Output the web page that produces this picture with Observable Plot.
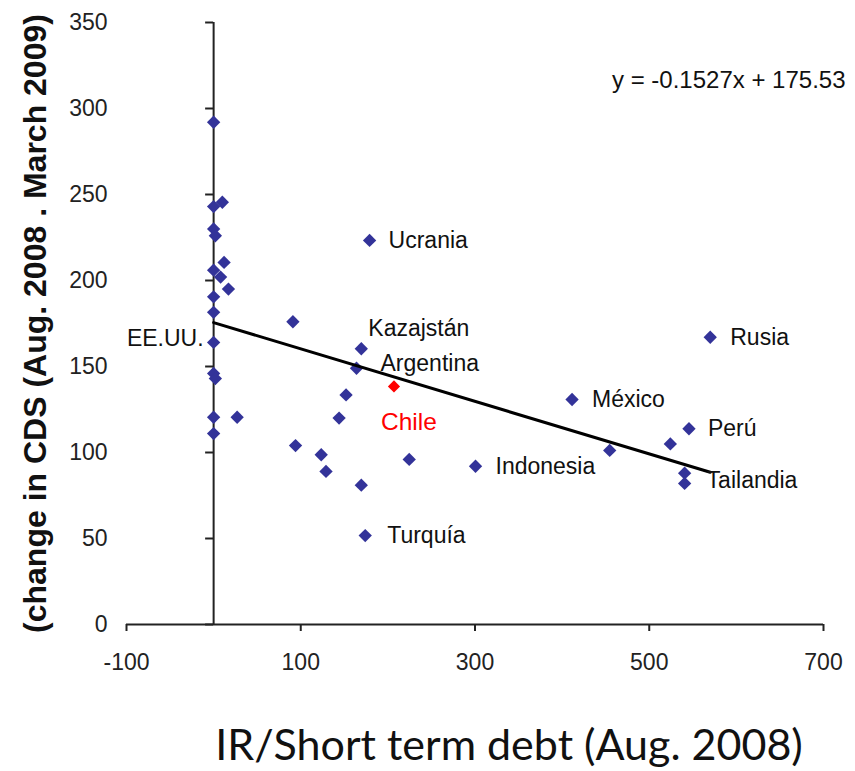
<!DOCTYPE html>
<html><head><meta charset="utf-8">
<script src="https://cdn.jsdelivr.net/npm/d3@7"></script>
<script src="https://cdn.jsdelivr.net/npm/@observablehq/plot@0.6"></script>
<style>
body{margin:0;background:#fff}
#chart{width:855px;height:771px}
</style>
</head><body><div id="chart"></div>
<script>
// IR / short term debt (Aug. 2008)
const irRatio = [0, 0, 10, 0, 2, 12, 0, 8, 17, 0, 0, 0, 0, 2, 0, 27, 0,
  91, 94, 123.5, 129, 144, 152, 164, 169.5, 169.5, 179, 174, 224.5, 207,
  300.6, 411.4, 454.6, 524.2, 545.6, 540.6, 540.6, 570];
// change in CDS (Aug. 2008 - March 2009)
const cdsChange = [292, 243, 245.5, 230, 226, 210.5, 206, 202, 195, 190.5, 181.5, 164, 146, 143, 120.5, 120.5, 111,
  176, 104, 98.7, 89, 120, 133.5, 149, 160.3, 81, 223.3, 51.7, 96, 138.4,
  92, 130.8, 101.2, 105, 113.8, 88, 82, 167];
const countries = ["", "", "", "", "", "", "", "", "", "", "", "EE.UU.", "", "", "", "", "",
  "", "", "", "", "", "", "Argentina", "Kazajstán", "", "Ucrania", "Turquía", "", "Chile",
  "Indonesia", "México", "", "", "Perú", "Tailandia", "", "Rusia"];
const highlighted = "Chile";
const xTicks = [-100, 100, 300, 500, 700];
const yTicks = [0, 50, 100, 150, 200, 250, 300, 350];
const slope = -0.1527;
const intercept = 175.53;
const equationText = "y = -0.1527x + 175.53";
const xTitle = "IR/Short term debt (Aug. 2008)";
const yTitle = "(change in CDS (Aug. 2008 . March 2009)";

const points = irRatio.map((x, i) => ({x, y: cdsChange[i], name: countries[i]}));
const xMin = d3.min(irRatio), xMax = d3.max(irRatio);
const trend = [xMin, xMax].map(x => ({x, y: intercept + slope * x}));

// label placement (pixel offsets, styling only)
const labelPos = {
  "Ucrania": {dx: 19, dy: 0, anchor: "start"},
  "Kazajstán": {dx: 7, dy: -20, anchor: "start"},
  "Argentina": {dx: 24, dy: -5, anchor: "start"},
  "Chile": {dx: -13, dy: 36, anchor: "start"},
  "México": {dx: 20, dy: 0, anchor: "start"},
  "Rusia": {dx: 20, dy: 0, anchor: "start"},
  "Perú": {dx: 19, dy: 0, anchor: "start"},
  "Indonesia": {dx: 20, dy: 0, anchor: "start"},
  "Tailandia": {dx: 22, dy: 7, anchor: "start"},
  "Turquía": {dx: 22, dy: 0, anchor: "start"},
  "EE.UU.": {dx: -10, dy: -4, anchor: "end"}
};

const blue = "#333399";
const labelFont = 23;
const labelMarks = points.filter(d => d.name).map(d => {
  const p = labelPos[d.name];
  const hi = d.name === highlighted;
  return Plot.text([d], {x: "x", y: "y", text: "name", dx: p.dx, dy: p.dy, textAnchor: p.anchor,
    fontSize: hi ? 24.5 : labelFont, fill: hi ? "#ff0000" : "#111"});
});

const chart = Plot.plot({
  width: 855, height: 771,
  marginLeft: 126, marginRight: 32, marginTop: 22, marginBottom: 147,
  style: {fontFamily: "'Liberation Sans', Arial, sans-serif", background: "#fff", color: "#222"},
  x: {domain: [-100, 700], label: null},
  y: {domain: [0, 350], label: null},
  marks: [
    Plot.axisX({ticks: xTicks, tickFormat: d => String(d), tickSize: 7, tickPadding: 22, fontSize: 23, strokeWidth: 2, label: null}),
    Plot.axisY({ticks: yTicks, tickFormat: d => String(d), tickSize: 0, tickPadding: 19, fontSize: 23, label: null}),
    Plot.ruleY([0], {stroke: "#222", strokeWidth: 2}),
    Plot.ruleX([0], {stroke: "#222", strokeWidth: 2}),
    Plot.ruleY(yTicks, {x1: 0, x2: 0, insetLeft: -8, stroke: "#222", strokeWidth: 2}),
    Plot.dot(points.filter(d => d.name !== highlighted), {x: "x", y: "y", symbol: "diamond2", r: 6, fill: blue, stroke: "none"}),
    Plot.dot(points.filter(d => d.name === highlighted), {x: "x", y: "y", symbol: "diamond2", r: 5.5, fill: "#ff0000", stroke: "none"}),
    Plot.line(trend, {x: "x", y: "y", stroke: "#000", strokeWidth: 3}),
    ...labelMarks,
    Plot.text([equationText], {frameAnchor: "top-right", textAnchor: "end", lineAnchor: "middle", dx: 22, dy: 58, fontSize: 24, fill: "#111"}),
    Plot.text([yTitle], {frameAnchor: "left", textAnchor: "middle", lineAnchor: "middle", rotate: -90, dx: -91, fontSize: 32, fontWeight: "bold", fill: "#111"}),
    Plot.text([xTitle], {frameAnchor: "bottom", textAnchor: "middle", lineAnchor: "middle", dx: 34, dy: 122, fontSize: 43, fontFamily: "Lato", fill: "#111"})
  ]
});
document.getElementById("chart").append(chart);
</script>
</body></html>
